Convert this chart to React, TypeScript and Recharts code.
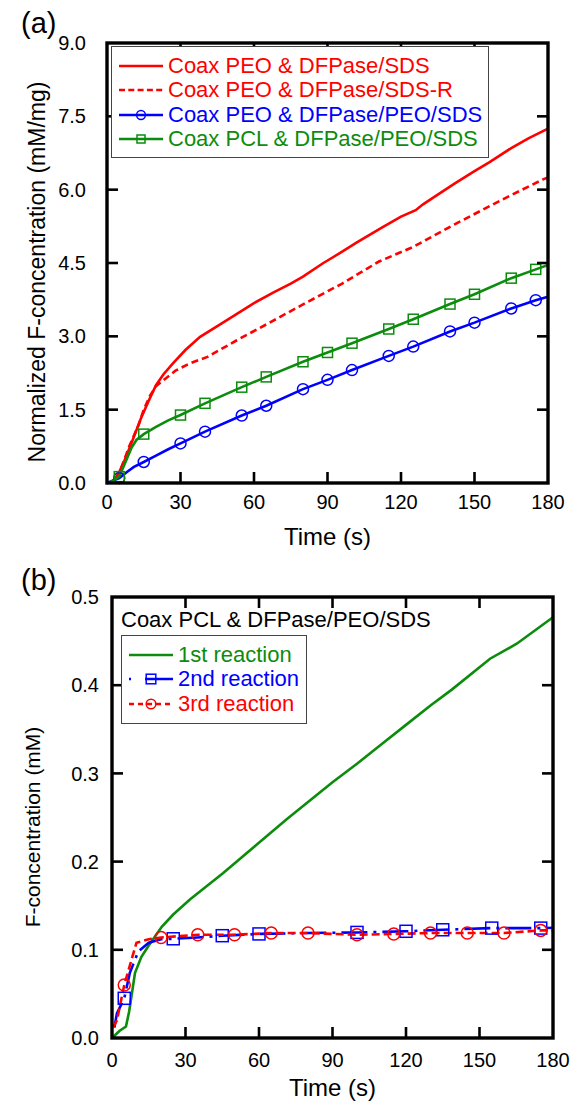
import React from 'react';
import { ComposedChart, Line, XAxis, YAxis } from 'recharts';

const FONT = '"Liberation Sans", Arial, sans-serif';
const RED = '#ff0000';
const BLUE = '#0000ff';
const GREEN = '#0c8c0c';

// shared x ticks
const timeTicks = [0, 30, 60, 90, 120, 150, 180];

// panel (a): normalized F-concentration (mM/mg)
const yTicksA = [0, 1.5, 3, 4.5, 6, 7.5, 9];
const namesA = [
  'Coax PEO & DFPase/SDS',
  'Coax PEO & DFPase/SDS-R',
  'Coax PEO & DFPase/PEO/SDS',
  'Coax PCL & DFPase/PEO/SDS',
];

const sdsT = [0, 2, 4, 7, 10, 14, 17, 20, 23, 27, 32, 38, 47, 60, 68, 75, 80, 88, 95, 102, 112, 120, 126, 129, 135, 142, 150, 156, 165, 172, 180];
const sdsV = [0, 0.02, 0.12, 0.44, 0.82, 1.34, 1.68, 2.0, 2.22, 2.45, 2.72, 2.99, 3.27, 3.68, 3.9, 4.08, 4.22, 4.49, 4.7, 4.92, 5.22, 5.45, 5.58, 5.7, 5.9, 6.13, 6.38, 6.56, 6.85, 7.05, 7.25];

const sdsRT = [0, 2, 5, 9, 13, 15, 17.5, 20, 23, 28, 34, 41, 53, 66, 81, 96, 111, 125, 140, 153, 165, 178, 180];
const sdsRV = [0, 0.02, 0.2, 0.74, 1.2, 1.5, 1.78, 1.98, 2.1, 2.3, 2.45, 2.58, 2.92, 3.27, 3.68, 4.08, 4.53, 4.83, 5.24, 5.58, 5.89, 6.21, 6.25];

const peoT = [0, 2, 5, 8, 11, 15, 20, 25, 30, 40, 55, 65, 80, 90, 100, 115, 125, 140, 150, 165, 175, 180];
const peoV = [0, 0.04, 0.1, 0.22, 0.33, 0.43, 0.56, 0.69, 0.81, 1.05, 1.38, 1.58, 1.92, 2.11, 2.31, 2.6, 2.79, 3.1, 3.28, 3.57, 3.74, 3.81];

const pclT = [0, 2, 5, 8, 10, 12, 15, 20, 25, 30, 40, 55, 65, 80, 90, 100, 115, 125, 140, 150, 165, 175, 180];
const pclV = [0, 0.03, 0.13, 0.48, 0.72, 0.88, 1.0, 1.15, 1.28, 1.39, 1.63, 1.96, 2.17, 2.48, 2.67, 2.86, 3.15, 3.35, 3.66, 3.86, 4.19, 4.37, 4.46];

const marksA = [5, 15, 30, 40, 55, 65, 80, 90, 100, 115, 125, 140, 150, 165, 175];

// panel (b): F-concentration (mM)
const yTicksB = [0, 0.1, 0.2, 0.3, 0.4, 0.5];
const titleB = 'Coax PCL & DFPase/PEO/SDS';
const namesB = ['1st reaction', '2nd reaction', '3rd reaction'];

const r1T = [0, 3, 5.7, 7, 9.4, 12, 14.8, 20.3, 25, 31.8, 45.4, 59, 71.3, 90, 100, 110, 120, 130, 138.7, 154.3, 165.2, 180];
const r1V = [0, 0.008, 0.013, 0.03, 0.074, 0.092, 0.104, 0.126, 0.14, 0.157, 0.187, 0.219, 0.248, 0.29, 0.311, 0.333, 0.355, 0.377, 0.395, 0.43, 0.447, 0.477];

const r2T = [1, 2, 5, 7.3, 10.7, 15, 20, 25, 35, 45, 60, 80, 100, 120, 135, 155, 175, 180];
const r2V = [0.012, 0.028, 0.045, 0.074, 0.098, 0.108, 0.112, 0.1125, 0.114, 0.116, 0.118, 0.119, 0.1197, 0.121, 0.1227, 0.1246, 0.1246, 0.125];
const marks2 = [5, 25, 45, 60, 100, 120, 135, 155, 175];

const r3T = [0.5, 2, 5, 8, 10, 15, 20, 35, 50, 65, 80, 100, 115, 130, 145, 160, 175, 180];
const r3V = [0.012, 0.02, 0.06, 0.089, 0.108, 0.112, 0.114, 0.117, 0.117, 0.119, 0.119, 0.117, 0.118, 0.119, 0.119, 0.119, 0.122, 0.122];
const marks3 = [5, 20, 35, 50, 65, 80, 100, 115, 130, 145, 160, 175];

const zip = (t: number[], v: number[]) => t.map((x, i) => ({ t: x, v: v[i] }));

type Shape = 'circle' | 'square' | null;

const drawMarker = (shape: Shape, color: string, cx: number, cy: number, size: number, key?: any) => {
  if (shape === 'circle')
    return <circle key={key} cx={cx} cy={cy} r={size / 2} fill="none" stroke={color} strokeWidth={1.5} />;
  if (shape === 'square')
    return <rect key={key} x={cx - size / 2} y={cy - size / 2} width={size} height={size} fill="none" stroke={color} strokeWidth={1.5} />;
  return null;
};

// only put a marker on the sampled times
const markerDot = (shape: Shape, color: string, marks: number[], size: number) => (props: any) => {
  const { cx, cy, payload, index } = props;
  if (!marks.includes(payload.t)) return <g key={`n${index}`} />;
  return drawMarker(shape, color, cx, cy, size, `m${index}`);
};

const tickFont = { fill: '#000', fontSize: 20, fontFamily: FONT };

// plot boxes (page px), shared by the charts' margins and the frame overlay
const boxA = { left: 107, top: 43, w: 441, h: 440 };
const boxB = { left: 112, top: 597, w: 441, h: 441 };

// heavy frame with inward ticks on all four sides, placed from the tick arrays
const Frame = ({ box, yMax, yTicks }: { box: typeof boxA; yMax: number; yTicks: number[] }) => {
  const sx = (t: number) => box.left + (t / 180) * box.w;
  const sy = (v: number) => box.top + (1 - v / yMax) * box.h;
  const len = 11;
  const b = box.top + box.h;
  const r = box.left + box.w;
  return (
    <svg width={573} height={1107} style={{ position: 'absolute', left: 0, top: 0, pointerEvents: 'none' }}>
      {timeTicks.slice(1, -1).map((t) => (
        <g key={`x${t}`} stroke="#000" strokeWidth={2.6}>
          <line x1={sx(t)} y1={b} x2={sx(t)} y2={b - len} />
          <line x1={sx(t)} y1={box.top} x2={sx(t)} y2={box.top + len} />
        </g>
      ))}
      {yTicks.slice(1, -1).map((v) => (
        <g key={`y${v}`} stroke="#000" strokeWidth={2.6}>
          <line x1={box.left} y1={sy(v)} x2={box.left + len} y2={sy(v)} />
          <line x1={r} y1={sy(v)} x2={r - len} y2={sy(v)} />
        </g>
      ))}
      <rect x={box.left} y={box.top} width={box.w} height={box.h} fill="none" stroke="#000" strokeWidth={3.4} />
    </svg>
  );
};

interface Entry { name: string; color: string; dash?: string; shape: Shape; size: number }

const Sample = ({ e }: { e: Entry }) => (
  <svg width={46} height={24} style={{ display: 'block', flex: 'none' }}>
    <line x1={1} y1={12} x2={45} y2={12} stroke={e.color} strokeWidth={2.5} strokeDasharray={e.dash} />
    {drawMarker(e.shape, e.color, 23, 12, e.size * 0.8)}
  </svg>
);

const LegendRows = ({ entries }: { entries: Entry[] }) => (
  <>
    {entries.map((e) => (
      <div key={e.name} style={{ display: 'flex', alignItems: 'center', height: 24.3 }}>
        <Sample e={e} />
        <span style={{ color: e.color, fontSize: 22, marginLeft: 4, whiteSpace: 'nowrap', lineHeight: '24px' }}>{e.name}</span>
      </div>
    ))}
  </>
);

const entriesA: Entry[] = [
  { name: namesA[0], color: RED, shape: null, size: 0 },
  { name: namesA[1], color: RED, dash: '6 3.3', shape: null, size: 0 },
  { name: namesA[2], color: BLUE, shape: 'circle', size: 11 },
  { name: namesA[3], color: GREEN, shape: 'square', size: 10 },
];

const entriesB: Entry[] = [
  { name: namesB[0], color: GREEN, shape: null, size: 0 },
  { name: namesB[1], color: BLUE, dash: '2 14 40', shape: 'square', size: 12 },
  { name: namesB[2], color: RED, dash: '5 4', shape: 'circle', size: 12 },
];

const abs = (left: number, top: number, extra: React.CSSProperties = {}): React.CSSProperties => ({
  position: 'absolute', left, top, fontFamily: FONT, color: '#000', ...extra,
});

// rotated y-axis title centred on (cx, cy)
const yTitle = (cx: number, cy: number, size: number): React.CSSProperties =>
  abs(cx - 220, cy - 14, { width: 440, height: 28, lineHeight: '28px', textAlign: 'center', fontSize: size, transform: 'rotate(-90deg)', whiteSpace: 'nowrap' });

const xTitle = (top: number, left: number): React.CSSProperties =>
  abs(left, top, { width: 441, height: 28, lineHeight: '28px', textAlign: 'center', fontSize: 24 });

export default function App() {
  return (
    <div style={{ position: 'absolute', left: 0, top: 0, width: 573, height: 1107, background: '#fff', fontFamily: FONT }}>
      <div style={{ position: 'absolute', left: 0, top: 0 }}>
        <ComposedChart width={573} height={555} margin={{ top: 43, right: 25, bottom: 0, left: 0 }}>
          <XAxis xAxisId="b" type="number" dataKey="t" domain={[0, 180]} ticks={timeTicks} interval={0}
            height={72} tickMargin={6} axisLine={false} tickLine={false} tick={tickFont} />
          <YAxis yAxisId="l" type="number" domain={[0, 9]} ticks={yTicksA} interval={0} width={107}
            tickMargin={15} axisLine={false} tickLine={false} tick={tickFont}
            tickFormatter={(v: number) => v.toFixed(1)} />
          <Line xAxisId="b" yAxisId="l" data={zip(sdsT, sdsV)} dataKey="v" name={namesA[0]} type="linear"
            stroke={RED} strokeWidth={2.6} dot={false} isAnimationActive={false} />
          <Line xAxisId="b" yAxisId="l" data={zip(sdsRT, sdsRV)} dataKey="v" name={namesA[1]} type="linear"
            stroke={RED} strokeWidth={2.6} strokeDasharray="7 4" dot={false} isAnimationActive={false} />
          <Line xAxisId="b" yAxisId="l" data={zip(peoT, peoV)} dataKey="v" name={namesA[2]} type="linear"
            stroke={BLUE} strokeWidth={2.6} dot={markerDot('circle', BLUE, marksA, 11)} isAnimationActive={false} />
          <Line xAxisId="b" yAxisId="l" data={zip(pclT, pclV)} dataKey="v" name={namesA[3]} type="linear"
            stroke={GREEN} strokeWidth={2.6} dot={markerDot('square', GREEN, marksA, 10)} isAnimationActive={false} />
        </ComposedChart>
      </div>

      <div style={{ position: 'absolute', left: 0, top: 555 }}>
        <ComposedChart width={573} height={552} margin={{ top: 42, right: 20, bottom: 0, left: 0 }}>
          <XAxis xAxisId="b" type="number" dataKey="t" domain={[0, 180]} ticks={timeTicks} interval={0}
            height={69} tickMargin={9} axisLine={false} tickLine={false} tick={tickFont} />
          <YAxis yAxisId="l" type="number" domain={[0, 0.5]} ticks={yTicksB} interval={0} width={112}
            tickMargin={7} axisLine={false} tickLine={false} tick={tickFont}
            tickFormatter={(v: number) => v.toFixed(1)} />
          <Line xAxisId="b" yAxisId="l" data={zip(r1T, r1V)} dataKey="v" name={namesB[0]} type="linear"
            stroke={GREEN} strokeWidth={2.6} dot={false} isAnimationActive={false} />
          <Line xAxisId="b" yAxisId="l" data={zip(r2T, r2V)} dataKey="v" name={namesB[1]} type="linear"
            stroke={BLUE} strokeWidth={2.6} strokeDasharray="26 6 3 6" dot={markerDot('square', BLUE, marks2, 12)} isAnimationActive={false} />
          <Line xAxisId="b" yAxisId="l" data={zip(r3T, r3V)} dataKey="v" name={namesB[2]} type="linear"
            stroke={RED} strokeWidth={2.6} strokeDasharray="8 4" dot={markerDot('circle', RED, marks3, 12)} isAnimationActive={false} />
        </ComposedChart>
      </div>

      <Frame box={boxA} yMax={9} yTicks={yTicksA} />
      <Frame box={boxB} yMax={0.5} yTicks={yTicksB} />

      {/* legends */}
      <div style={abs(111, 46, { width: 378, height: 112, border: '1px solid #444', background: '#fff', padding: '7px 0 6px 6px', boxSizing: 'border-box' })}>
        <LegendRows entries={entriesA} />
      </div>
      <div style={abs(121, 607, { width: 330 })}>
        <div style={{ fontSize: 22, lineHeight: '26px', whiteSpace: 'nowrap', marginBottom: 2 }}>{titleB}</div>
        <div style={{ border: '1px solid #444', background: '#fff', width: 186, padding: '7px 0 7px 6px', boxSizing: 'border-box' }}>
          <LegendRows entries={entriesB} />
        </div>
      </div>

      {/* axis titles and panel letters */}
      <div style={xTitle(523, 107)}>Time (s)</div>
      <div style={xTitle(1074, 112)}>Time (s)</div>
      <div style={yTitle(37, 272, 23)}>Normalized F-concentration (mM/mg)</div>
      <div style={yTitle(33, 827, 21)}>F-concentration (mM)</div>
      <div style={abs(21, 5, { fontSize: 29, lineHeight: '36px' })}>(a)</div>
      <div style={abs(21, 562, { fontSize: 29, lineHeight: '36px' })}>(b)</div>
    </div>
  );
}
